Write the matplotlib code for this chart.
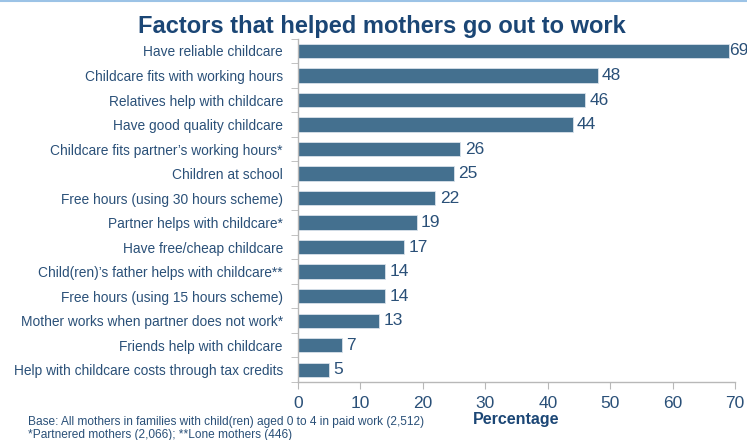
import matplotlib
matplotlib.use('Agg')
import matplotlib.pyplot as plt
import numpy as np
from matplotlib.lines import Line2D

# Данные
categories = [
    'Have reliable childcare',
    'Childcare fits with working hours',
    'Relatives help with childcare',
    'Have good quality childcare',
    "Childcare fits partner\u2019s working hours*",
    'Children at school',
    'Free hours (using 30 hours scheme)',
    'Partner helps with childcare*',
    'Have free/cheap childcare',
    "Child(ren)\u2019s father helps with childcare**",
    'Free hours (using 15 hours scheme)',
    'Mother works when partner does not work*',
    'Friends help with childcare',
    'Help with childcare costs through tax credits',
]
values = [69, 48, 46, 44, 26, 25, 22, 19, 17, 14, 14, 13, 7, 5]
xticks = [0, 10, 20, 30, 40, 50, 60, 70]

BAR_COLOR = '#44708f'
TEXT_COLOR = '#2a5078'
TITLE_COLOR = '#1b4675'
AXIS_COLOR = '#b8b8b8'

plt.rcParams['font.family'] = ['Liberation Sans', 'DejaVu Sans']

fig = plt.figure(figsize=(7.47, 4.40), dpi=100)
ax = fig.add_axes([0.399, 0.132, 0.585, 0.780])

y = np.arange(len(categories))
ax.barh(y, values, height=0.58, color=BAR_COLOR, edgecolor='#d8e2ea', linewidth=0.6)

for yi, v in zip(y, values):
    off = 0.0 if v >= 69 else 0.7
    ax.text(v + off, yi, str(v), va='center', ha='left', fontsize=12.5, color=TEXT_COLOR)

ax.set_xlim(0, 70)
ax.set_ylim(len(categories) - 0.5, -0.5)
ax.set_xticks(xticks)
ax.set_xticklabels([str(t) for t in xticks], fontsize=12.5, color=TEXT_COLOR)

# подписи категорий без тиков, тики на границах
ax.set_yticks(y)
ax.set_yticklabels(categories, fontsize=9.9, color=TEXT_COLOR)
ax.tick_params(axis='y', length=0, pad=11)
ax.set_yticks(np.arange(-0.5, len(categories), 1.0), minor=True)
ax.tick_params(axis='y', which='minor', length=5, color=AXIS_COLOR, direction='out')
ax.tick_params(axis='x', length=5, color=AXIS_COLOR, direction='out', pad=5)

for s in ['top', 'right']:
    ax.spines[s].set_visible(False)
for s in ['left', 'bottom']:
    ax.spines[s].set_color(AXIS_COLOR)
    ax.spines[s].set_linewidth(1.0)

ax.set_xlabel('Percentage', fontsize=11.5, fontweight='bold', color=TITLE_COLOR, labelpad=1)

fig.text(0.511, 0.925, 'Factors that helped mothers go out to work', ha='center', va='baseline',
         fontsize=17, fontweight='bold', color=TITLE_COLOR)

fig.text(0.037, 0.040, 'Base: All mothers in families with child(ren) aged 0 to 4 in paid work (2,512)',
         ha='left', va='center', fontsize=8.6, color=TEXT_COLOR)
fig.text(0.037, 0.012, '*Partnered mothers (2,066); **Lone mothers (446)',
         ha='left', va='center', fontsize=8.6, color=TEXT_COLOR)

# светло-голубая линия сверху
fig.add_artist(Line2D([0, 1], [0.998, 0.998], transform=fig.transFigure, color='#9cc3e6', linewidth=1.5))

fig.savefig('out.png', dpi=100)
